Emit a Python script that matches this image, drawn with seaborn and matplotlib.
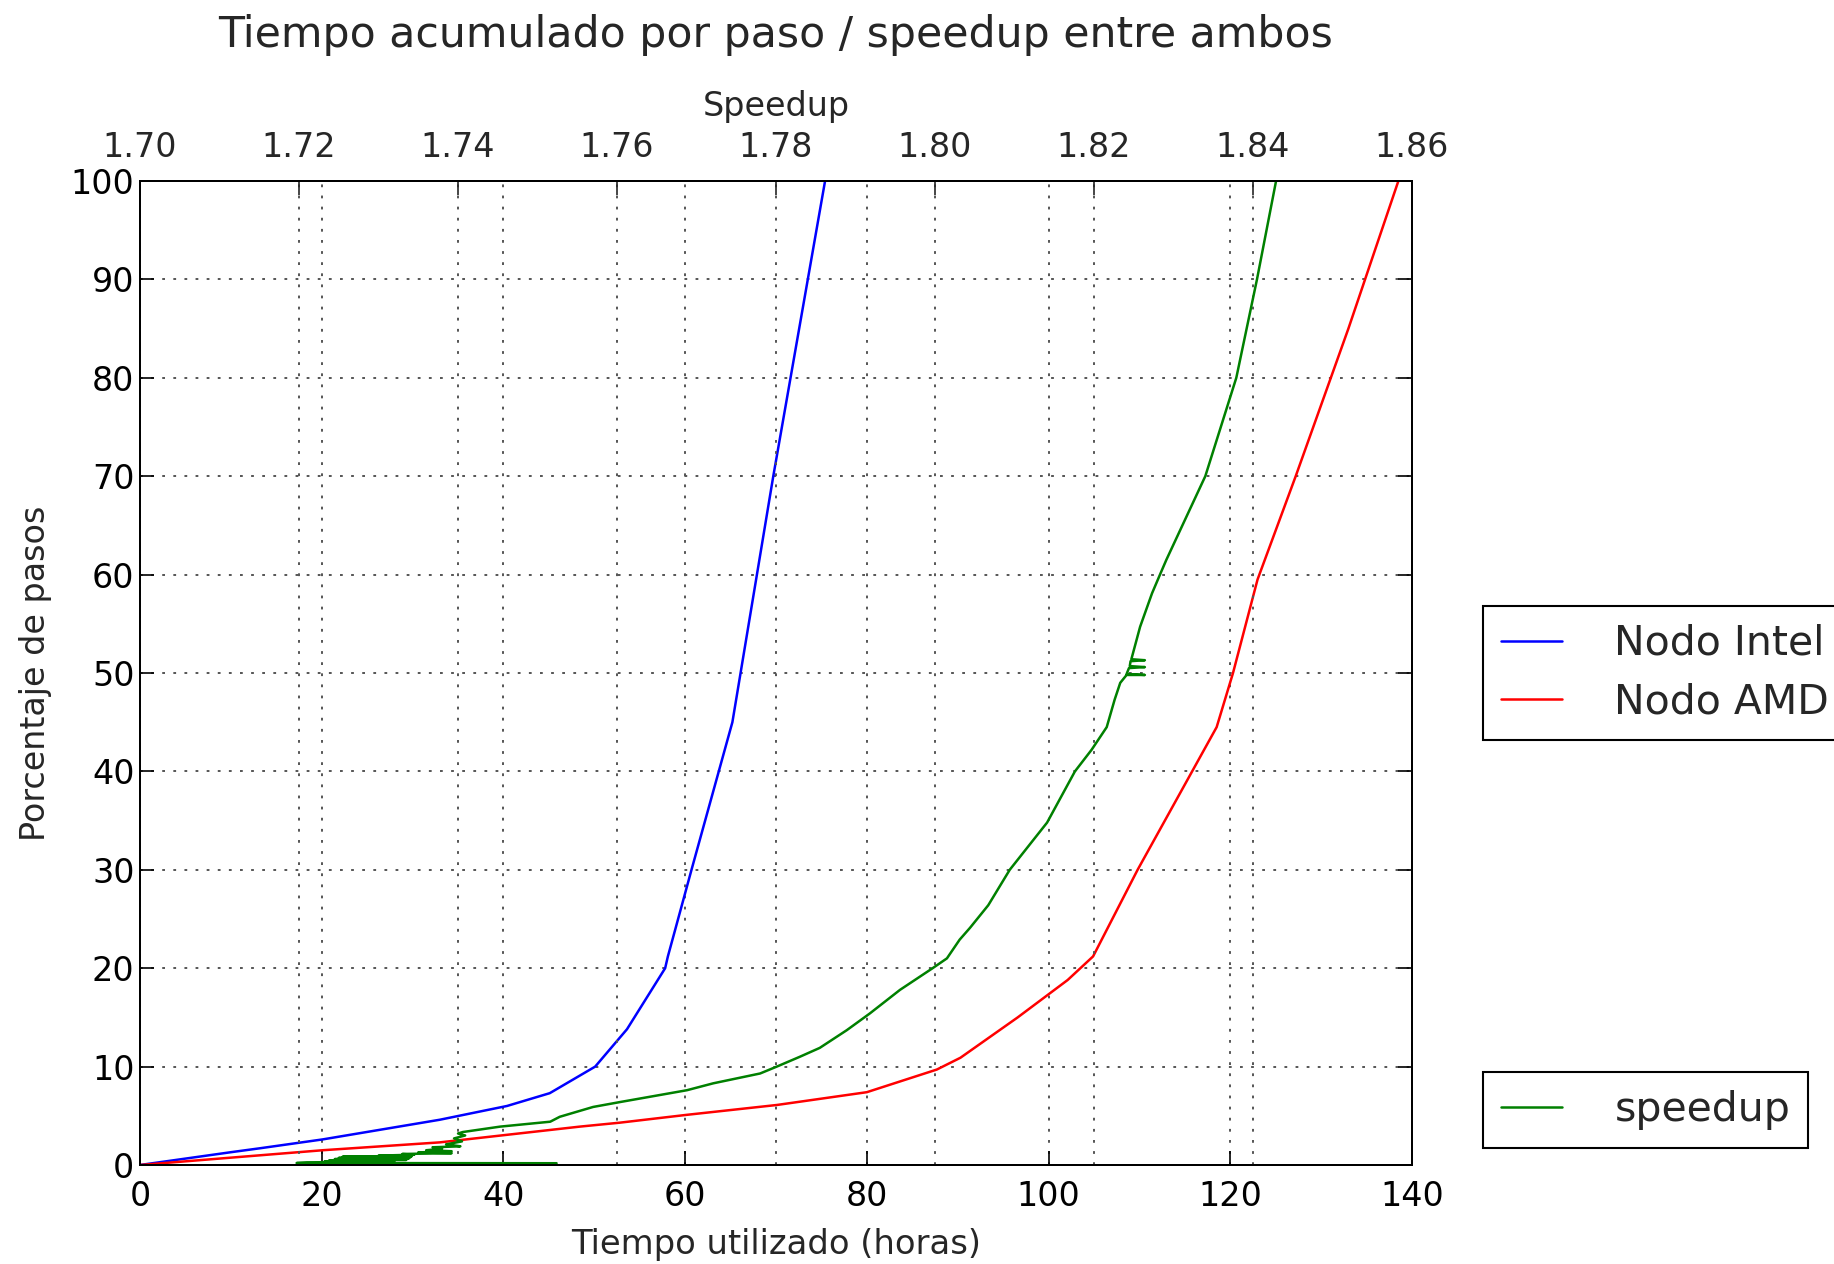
import matplotlib
matplotlib.use("Agg")
import matplotlib.pyplot as plt
import seaborn as sns
import pandas as pd
from matplotlib.ticker import FormatStrFormatter, MultipleLocator

# ---------------- data ----------------
intel_hours = [0, 10, 13.2, 20.1, 33.0, 40.4, 45.1, 50.1, 53.6, 57.8, 58.1, 58.9, 60.7, 63.7, 65.2, 69.7, 73.5, 75.4]
intel_pct   = [0, 1.3, 1.7, 2.6, 4.6, 6.0, 7.3, 10.0, 13.8, 20.0, 21.2, 23.9, 30.0, 40.0, 45.0, 70.0, 90.0, 100.0]

amd_hours = [0, 20.1, 33.0, 48.4, 52.8, 60.2, 70.1, 80.0, 87.7, 90.3, 96.6, 102.1, 104.9, 109.8, 115.8, 118.5, 120.3, 123.0, 127.2, 133.0, 138.5]
amd_pct   = [0, 1.5, 2.3, 3.9, 4.3, 5.1, 6.1, 7.4, 9.7, 10.9, 15.0, 18.8, 21.2, 30.0, 40.0, 44.5, 50.0, 59.5, 70.0, 85.0, 100.0]

speedup_vals = [1.7524, 1.7197, 1.7210, 1.7300, 1.7232, 1.7320, 1.7238, 1.7335, 1.7245, 1.7338,
                1.7250, 1.7340, 1.7255, 1.7342, 1.7300, 1.7345, 1.7330, 1.7392, 1.7350, 1.7392,
                1.7360, 1.7380, 1.7368, 1.7403, 1.7385, 1.7405, 1.7395, 1.7409, 1.7400, 1.7406,
                1.7453, 1.7516, 1.7528, 1.7570, 1.7604, 1.7688, 1.7721, 1.7780, 1.7801, 1.7830,
                1.7855, 1.7889, 1.7918, 1.7956, 1.7997, 1.8015, 1.8031, 1.8044, 1.8067, 1.8094,
                1.8141, 1.8176, 1.8197, 1.8216, 1.8226, 1.8233, 1.8241, 1.8264, 1.8241, 1.8244,
                1.8264, 1.8245, 1.8246, 1.8264, 1.8247, 1.8248, 1.8258, 1.8273, 1.8283, 1.8291,
                1.8340, 1.8379, 1.8405, 1.8429]
speedup_pct  = [0.18, 0.20, 0.25, 0.30, 0.35, 0.40, 0.48, 0.52, 0.60, 0.65,
                0.72, 0.78, 0.85, 0.90, 0.95, 1.05, 1.12, 1.20, 1.28, 1.40,
                1.50, 1.65, 1.80, 1.90, 2.10, 2.40, 2.70, 3.00, 3.20, 3.35,
                3.90, 4.40, 4.90, 5.90, 6.40, 7.60, 8.30, 9.30, 10.0, 11.0,
                11.9, 13.7, 15.4, 17.8, 20.0, 21.0, 22.9, 24.1, 26.4, 30.0,
                34.8, 40.0, 42.2, 44.5, 47.3, 49.0, 49.8, 49.8, 49.9, 50.5,
                50.6, 50.7, 51.2, 51.3, 51.4, 51.7, 54.7, 58.1, 60.0, 61.5,
                70.0, 80.0, 90.0, 100.0]

series_names = ["Nodo Intel", "Nodo AMD"]
series_colors = ["#0000ff", "#ff0000"]
speedup_color = "#008000"

title_text = "Tiempo acumulado por paso / speedup entre ambos"
xlabel_bottom = "Tiempo utilizado (horas)"
xlabel_top = "Speedup"
ylabel_text = "Porcentaje de pasos"

# ---------------- style ----------------
sns.set_style("white")
plt.rcParams["font.family"] = ["DejaVu Sans"]
plt.rcParams["lines.scale_dashes"] = False

FS = 24

nodes = pd.DataFrame({
    "horas": intel_hours + amd_hours,
    "pct": intel_pct + amd_pct,
    "nodo": [series_names[0]] * len(intel_hours) + [series_names[1]] * len(amd_hours),
})
sp = pd.DataFrame({"speedup": speedup_vals, "pct": speedup_pct})

fig = plt.figure(figsize=(18.34, 12.64), dpi=100)
ax1 = fig.add_axes([140/1834, 1 - 1165/1264, 1272/1834, 984/1264])

sns.lineplot(data=nodes, x="horas", y="pct", hue="nodo", palette=series_colors,
             hue_order=series_names, sort=False, estimator=None, ax=ax1,
             linewidth=1.8, legend=False)
ax2 = ax1.twiny()
sns.lineplot(data=sp, x="speedup", y="pct", sort=False, estimator=None, ax=ax2,
             color=speedup_color, linewidth=1.8, legend=False)

ax1.set_xlim(0, 140)
ax1.set_ylim(0, 100)
ax2.set_xlim(1.70, 1.86)
ax2.set_ylim(0, 100)
ax1.xaxis.set_major_locator(MultipleLocator(20))
ax1.yaxis.set_major_locator(MultipleLocator(10))
ax2.xaxis.set_major_locator(MultipleLocator(0.02))
ax2.xaxis.set_major_formatter(FormatStrFormatter("%.2f"))

grid_kw = dict(color="#555555", linestyle=(0, (2, 6)), linewidth=1.4)
ax1.grid(True, **grid_kw)
ax2.grid(True, axis="x", **grid_kw)
ax2.grid(False, axis="y")

for ax in (ax1, ax2):
    for s in ax.spines.values():
        s.set_color("black")
        s.set_linewidth(1.4)
ax1.tick_params(axis="both", direction="in", length=10, width=1.2, labelsize=FS,
                colors="black")
ax1.tick_params(axis="x", top=False, bottom=True, pad=10.5)
ax1.tick_params(axis="y", right=True, left=True, pad=4)
ax2.tick_params(axis="x", direction="in", length=10, width=1.2, labelsize=FS,
                top=True, bottom=False, pad=12)

ax1.set_xlabel(xlabel_bottom, fontsize=24.3, labelpad=11)
ax1.set_ylabel(ylabel_text, fontsize=FS, labelpad=13.5)
ax2.set_xlabel(xlabel_top, fontsize=FS, labelpad=11)
ax1.set_title(title_text, fontsize=30.7, y=1.140, va="center")

legend_kw = dict(loc="center left", borderaxespad=0, fontsize=29.5, frameon=True,
                 fancybox=False, framealpha=1, edgecolor="black", borderpad=0.43,
                 labelspacing=0.44, handlelength=1.5, handletextpad=1.27)
lines1 = ax1.get_lines()[:2]
leg1 = ax1.legend(lines1, series_names, bbox_to_anchor=(1.056, 0.5), **legend_kw)
leg1.get_frame().set_linewidth(1.5)
lines2 = ax2.get_lines()[:1]
leg2 = ax2.legend(lines2, ["speedup"], bbox_to_anchor=(1.056, 0.056), **legend_kw)
leg2.get_frame().set_linewidth(1.5)

fig.savefig("out.png", dpi=100, facecolor="white")
